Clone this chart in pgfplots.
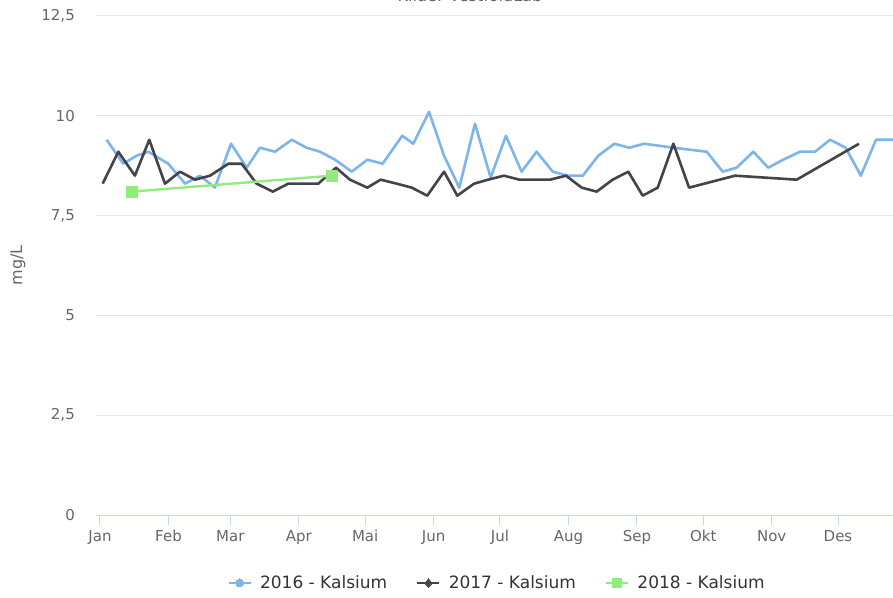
\documentclass[border=0pt]{standalone}
\usepackage{fontspec}
\setmainfont{DejaVu Sans}
\usepackage{pgfplots}
\pgfplotsset{compat=1.18}

\definecolor{c16}{HTML}{7CB5EC}
\definecolor{c17}{HTML}{434348}
\definecolor{c18}{HTML}{90ED7D}
\definecolor{gridc}{HTML}{E6E6E6}
\definecolor{axisc}{HTML}{CCD6EB}
\definecolor{labc}{HTML}{666666}
\definecolor{legc}{HTML}{333333}

\begin{document}
\begin{tikzpicture}
\begin{axis}[
    name=ax,
    scale only axis,
    width=804pt, height=499pt,
    xmin=-1.81, xmax=362.06,
    ymin=0, ymax=12.5,
    axis x line*=bottom, axis y line*=left,
    x axis line style={draw=axisc, line width=1pt, -},
    y axis line style={draw=none},
    xtick={0,31,59,90,120,151,181,212,243,273,304,334},
    xticklabels={Jan,Feb,Mar,Apr,Mai,Jun,Jul,Aug,Sep,Okt,Nov,Des},
    ytick={0,2.5,5,7.5,10,12.5},
    yticklabels={0,{2,5},5,{7,5},10,{12,5}},
    tick align=outside,
    major tick length=10pt,
    xtick style={draw=axisc, line width=1pt},
    ytick style={draw=none},
    ymajorgrids,
    grid style={draw=gridc, line width=1pt},
    tick label style={font=\fontsize{15}{18}\selectfont, text=labc},
    x tick label style={anchor=base, inner sep=0pt, yshift=-16pt},
    y tick label style={anchor=east, inner sep=0pt, xshift=-11pt},
    ylabel={mg/L},
    every axis y label/.style={at={(axis description cs:-0.097,0.5)}, rotate=90, anchor=center,
        font=\fontsize{16}{19}\selectfont, text=labc},
    title={Kilde: VestfoldLab},
    title style={at={(axis description cs:0.465,1.018)}, anchor=base,
        font=\fontsize{16}{19}\selectfont, text=labc},
    legend columns=3,
    legend style={at={(axis description cs:0.4988,-0.136)}, anchor=center,
        draw=none, fill=none, font=\fontsize{17}{20}\selectfont, text=legc,
        /tikz/every odd column/.append style={column sep=6pt},
        /tikz/every even column/.append style={column sep=27pt},
        nodes={inner sep=2pt}},
    legend image code/.code={
        \draw[mark repeat=2, mark phase=2, #1] plot coordinates {(0pt,0pt) (11pt,0pt) (22pt,0pt)};
    },
]
\addplot[c16, line width=2.6pt, line join=round, forget plot] coordinates {
(3.0,9.4) (10.5,8.8) (16.6,9.0) (21.9,9.1) (30.9,8.8) (38.5,8.3) (45.3,8.5) (52.0,8.2)
(59.3,9.3) (66.4,8.7) (72.4,9.2) (79.2,9.1) (86.8,9.4) (93.5,9.2) (99.6,9.1) (106.4,8.9)
(113.9,8.6) (121.0,8.9) (127.9,8.8) (136.8,9.5) (141.8,9.3) (148.9,10.1) (155.7,9.0)
(162.6,8.2) (169.7,9.8) (176.8,8.45) (183.7,9.5) (190.8,8.6) (197.6,9.1) (204.9,8.6)
(211.7,8.5) (218.5,8.5) (225.5,9.0) (232.8,9.3) (239.5,9.2) (246.2,9.3) (253.0,9.25)
(259.5,9.2) (267.0,9.15) (274.6,9.1) (281.8,8.6) (288.1,8.7) (295.7,9.1) (302.4,8.7)
(309.2,8.9) (316.8,9.1) (323.6,9.1) (330.4,9.4) (337.5,9.2) (344.3,8.5) (351.2,9.4) (358.9,9.4)
};
\addplot[c17, line width=2.6pt, line join=round, forget plot] coordinates {
(1.2,8.3) (8.3,9.1) (15.8,8.5) (22.3,9.4) (29.4,8.3) (36.2,8.6) (43.0,8.4) (49.8,8.5)
(58.1,8.8) (64.1,8.8) (70.9,8.3) (78.2,8.1) (85.2,8.3) (98.8,8.3) (106.8,8.7) (113.1,8.4)
(121.0,8.2) (127.0,8.4) (134.3,8.3) (141.1,8.2) (148.1,8.0) (155.7,8.6) (161.7,8.0)
(169.3,8.3) (175.7,8.4) (182.8,8.5) (189.8,8.4) (196.9,8.4) (203.7,8.4) (210.9,8.5)
(218.0,8.2) (224.8,8.1) (232.0,8.4) (239.1,8.6) (245.6,8.0) (252.4,8.2) (259.5,9.3)
(266.6,8.2) (287.4,8.5) (315.3,8.4) (343.5,9.3)
};
\addplot[c18, line width=2.4pt, mark=square*, mark size=5.5pt, mark options={line width=0pt}, forget plot] coordinates {
(14.3,8.1) (104.9,8.5)
};
\addlegendimage{c16, line width=2.6pt, mark=*, mark size=4pt, mark options={line width=0pt}}
\addlegendentry{2016 - Kalsium}
\addlegendimage{c17, line width=2.6pt, mark=diamond*, mark size=4.5pt, mark options={line width=0pt}}
\addlegendentry{2017 - Kalsium}
\addlegendimage{c18, line width=2.6pt, mark=square*, mark size=4.5pt, mark options={line width=0pt}}
\addlegendentry{2018 - Kalsium}
\end{axis}
\path (ax.south west) ++(-96pt,-82pt) coordinate (bl);
\pgfresetboundingbox
\useasboundingbox (bl) rectangle ++(893pt,597pt);
\end{tikzpicture}
\end{document}
